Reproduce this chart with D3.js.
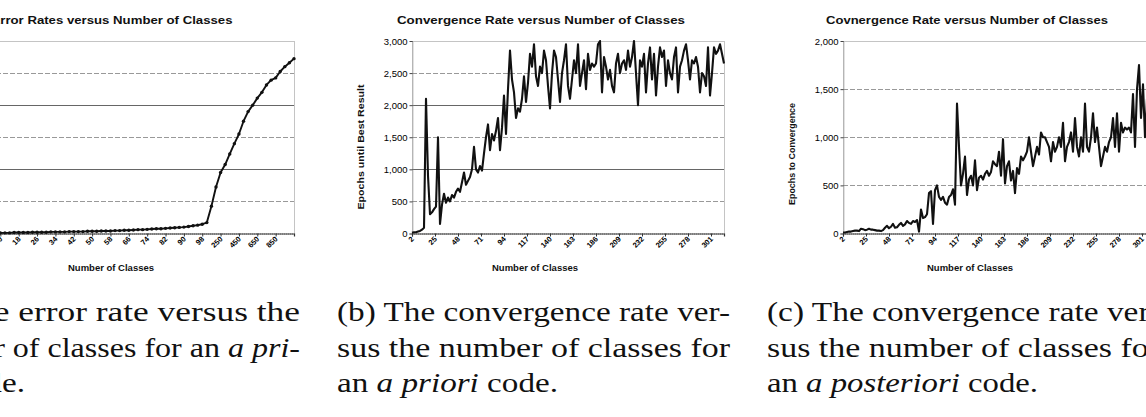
<!DOCTYPE html>
<html>
<head>
<meta charset="utf-8">
<script src="https://cdn.jsdelivr.net/npm/d3@7"></script>
<style>
  body { margin: 0; background: #fff; }
  svg { display: block; }
</style>
</head>
<body>
<div id="chart"></div>
<script>
// ---------- data ----------

// (a) error rate (%) per class-count category, a priori code
const errorRate = [
  0.1, 0.1, 0.1, 0.2, 0.2, 0.2, 0.2, 0.3, 0.3, 0.3,
  0.3, 0.4, 0.4, 0.4, 0.4, 0.5, 0.5, 0.5, 0.5, 0.6,
  0.6, 0.6, 0.6, 0.7, 0.7, 0.7, 0.8, 0.8, 0.8, 0.9,
  0.9, 1.0, 1.0, 1.1, 1.2, 1.2, 1.3, 1.4, 1.5, 1.5,
  1.6, 1.7, 1.8, 1.9, 2.0, 2.2, 2.4, 2.6, 2.9, 3.4,
  8.5, 14.5, 19, 21.5, 24.8, 28, 31, 35, 38, 40,
  42.2, 44, 46.3, 47.8, 48.5, 50.5, 52, 53.2, 54.5
];
const tickLabelsA = ["2", "10", "18", "26", "34", "42", "50", "58", "66", "74", "82", "90", "98", "250", "450", "650", "850"];
const yTicksA = [0, 10, 20, 30, 40, 50, 60];

// (b) epochs until best result, a priori code (one value every 2 classes from 2)
const epochsPriori = [
  10, 20, 20, 30, 40, 60, 90, 2100, 900, 300,
  330, 380, 420, 1500, 150, 450, 620, 480, 560, 500,
  600, 560, 650, 700, 650, 800, 950, 760, 820, 880,
  1000, 1350, 1000, 950, 1050, 980, 1250, 1500, 1700, 1300,
  1550, 1450, 1600, 1800, 1300, 1650, 2150, 1550, 2250, 2850,
  2400, 2200, 1800, 1950, 1900, 2100, 2450, 2050, 2350, 2800,
  2600, 2950, 2450, 2300, 2600, 2500, 2850, 2700, 2300, 1950,
  2500, 2850, 2750, 2400, 2050, 2500, 2700, 2950, 2300, 2100,
  2400, 2700, 2500, 2950, 2300, 2500, 2700, 2250, 2800, 2550,
  2650, 2600, 2650, 2950, 3000, 2200, 2750, 2600, 2400, 2550,
  2300, 2200, 2650, 2800, 2500, 2650, 2700, 2550, 2850, 2600,
  2750, 3000, 2500, 2000, 2700, 2600, 2800, 2200, 2650, 2900,
  2400, 2800, 2150, 2600, 2900, 2750, 2850, 2300, 2700, 2500,
  2400, 2750, 2900, 2200, 2600, 2700, 2850, 2950, 2700, 2400,
  2700, 2650, 2750, 2600, 2200, 2500, 2450, 2300, 2900, 2150,
  2500, 2900, 2800, 2850, 2950, 2800, 2650
];

// (c) epochs to convergence, a posteriori code (one value every 2 classes from 2)
const epochsPosteriori = [
  10, 10, 15, 20, 20, 25, 30, 30, 25, 50,
  45, 35, 40, 50, 40, 40, 35, 30, 30, 25,
  35, 60, 80, 55, 70, 100, 60, 65, 90, 110,
  80, 95, 130, 110, 100, 130, 120, 140, 20, 250,
  160, 170, 200, 420, 440, 100, 450, 500, 380, 350,
  380, 320, 300, 380, 400, 460, 300, 1350, 900, 500,
  620, 800, 400, 560, 600, 500, 760, 450, 580, 600,
  560, 620, 650, 600, 640, 750, 720, 700, 850, 600,
  980, 520, 700, 750, 550, 650, 420, 680, 620, 800,
  760, 800, 850, 1000, 850, 700, 800, 900, 820, 1050,
  1000, 1000, 950, 900, 750, 950, 850, 900, 1000, 900,
  1150, 750, 900, 950, 1050, 850, 1200, 900, 800, 1000,
  850, 1350, 900, 850, 1000, 1250, 950, 1100, 900, 700,
  800, 900, 850, 950, 1000, 1200, 900, 1250, 850, 1150,
  1050, 1100, 1080, 1100, 1050, 1450, 900, 1500, 1750, 1200,
  1550, 1000, 1400, 1300, 1500, 1250, 1450
];

const firstClass = 2;
const classStep = 2;
const xTicksBC = [2, 25, 48, 71, 94, 117, 140, 163, 186, 209, 232, 255, 278, 301];
const yTicksB = [0, 500, 1000, 1500, 2000, 2500, 3000];
const yTicksC = [0, 500, 1000, 1500, 2000];

const titles = [
  "Error Rates versus Number of Classes",
  "Convergence Rate versus Number of Classes",
  "Covnergence Rate versus Number of Classes"
];
const yTitles = ["", "Epochs until Best Result", "Epochs to Convergence"];
const xTitle = "Number of Classes";

// caption lines: list of [text, italic] pieces
const captionA = [
  [["(a) The error rate versus the", false]],
  [["number of classes for an ", false], ["a pri-", true]],
  [["ori", true], [" code.", false]]
];
const captionB = [
  [["(b) The convergence rate ver-", false]],
  [["sus the number of classes for", false]],
  [["an ", false], ["a priori", true], [" code.", false]]
];
const captionC = [
  [["(c) The convergence rate ver-", false]],
  [["sus the number of classes for", false]],
  [["an ", false], ["a posteriori", true], [" code.", false]]
];

// ---------- drawing ----------
const W = 1146, H = 417;
const sans = "'Liberation Sans', Arial, sans-serif";
const serif = "'Liberation Serif', 'DejaVu Serif', serif";

const svg = d3.select("#chart").append("svg")
  .attr("width", W).attr("height", H)
  .attr("viewBox", `0 0 ${W} ${H}`);
svg.append("rect").attr("width", W).attr("height", H).attr("fill", "#fff");

/**
 * drawPanel 画一个小图（扫描件里的 Excel 折线图）
 */
function drawPanel(p) {
  const g = svg.append("g");
  const top = 41, bottom = 233.5;
  const right = p.left + 312;

  const y = d3.scaleLinear().domain([p.yTicks[0], p.yTicks[p.yTicks.length - 1]]).range([bottom, top]);
  const x = d3.scaleLinear().domain(p.xDomain).range([p.left, right]);

  // gridlines (the scan shows some as solid, some as broken)
  g.selectAll("line.grid")
    .data(p.yTicks.slice(1, -1))
    .join("line")
    .attr("class", "grid")
    .attr("x1", p.left).attr("x2", right)
    .attr("y1", d => Math.round(y(d)) + 0.5).attr("y2", d => Math.round(y(d)) + 0.5)
    .attr("stroke", d => p.solidGrid.includes(d) ? "#666" : "#999")
    .attr("stroke-width", 1)
    .attr("stroke-dasharray", d => p.solidGrid.includes(d) ? null : "5,2");

  // plot area border (dotted)
  g.append("rect")
    .attr("x", p.left + 0.5).attr("y", top + 0.5)
    .attr("width", right - p.left).attr("height", bottom - top)
    .attr("fill", "none")
    .attr("stroke", "#888")
    .attr("stroke-dasharray", "1,1");

  // y axis
  const yAxis = d3.axisLeft(y)
    .tickValues(p.yTicks)
    .tickSize(3)
    .tickPadding(2)
    .tickFormat(p.showYLabels ? d3.format(",") : "");
  const ya = g.append("g")
    .attr("transform", `translate(${p.left + 0.5},0)`)
    .call(yAxis);
  ya.select(".domain").attr("stroke", "#888").attr("stroke-dasharray", "1,1");
  ya.selectAll(".tick line").attr("stroke", "#444");
  ya.selectAll(".tick text")
    .attr("font-family", sans).attr("font-size", 9.5).attr("fill", "#000");

  // x axis
  const xAxis = d3.axisBottom(x)
    .tickValues(p.xTicks)
    .tickSize(3)
    .tickFormat((d, i) => p.xLabels[i]);
  const xa = g.append("g")
    .attr("transform", `translate(0,${bottom})`)
    .call(xAxis);
  xa.select(".domain").attr("stroke", "#333").attr("stroke-width", 1.2);
  xa.selectAll(".tick line").attr("stroke", "#333");
  xa.selectAll(".tick text")
    .attr("font-family", sans).attr("font-size", 7.5).attr("font-weight", "bold")
    .attr("fill", "#000")
    .attr("text-anchor", "end")
    .attr("dy", null).attr("y", 0)
    .attr("transform", "translate(2,6) rotate(-45)");

  // series line
  const line = d3.line()
    .x((d, i) => x(p.xOf(i)))
    .y(d => y(d));
  g.append("path")
    .datum(p.values)
    .attr("d", line)
    .attr("fill", "none")
    .attr("stroke", "#111")
    .attr("stroke-width", p.lineWidth)
    .attr("stroke-linejoin", "round");

  if (p.markers) {
    g.selectAll("circle.pt")
      .data(p.values)
      .join("circle")
      .attr("class", "pt")
      .attr("cx", (d, i) => x(p.xOf(i)))
      .attr("cy", d => y(d))
      .attr("r", 1.7)
      .attr("fill", "#111");
  }

  // chart title
  g.append("text")
    .attr("x", p.titleX).attr("y", 24)
    .attr("text-anchor", "middle")
    .attr("font-family", sans).attr("font-size", 11.5).attr("font-weight", "bold")
    .attr("fill", "#111")
    .attr("textLength", p.titleW).attr("lengthAdjust", "spacingAndGlyphs")
    .text(p.title);

  // x title
  g.append("text")
    .attr("x", p.xTitleX).attr("y", 271)
    .attr("text-anchor", "middle")
    .attr("font-family", sans).attr("font-size", 8.5).attr("font-weight", "bold")
    .attr("fill", "#111")
    .attr("textLength", 86).attr("lengthAdjust", "spacingAndGlyphs")
    .text(xTitle);

  // y title
  if (p.yTitle) {
    g.append("text")
      .attr("transform", `translate(${p.left - 48},${p.yTitleY}) rotate(-90)`)
      .attr("text-anchor", "middle")
      .attr("font-family", sans).attr("font-size", 9).attr("font-weight", "bold")
      .attr("fill", "#111")
      .attr("textLength", p.yTitleW).attr("lengthAdjust", "spacingAndGlyphs")
      .text(p.yTitle);
  }
}

/**
 * drawCaption 论文里的子图标题（三行，前两行两端对齐）
 */
function drawCaption(left, lines, widths) {
  const baselines = [321, 356.5, 392];
  lines.forEach((pieces, li) => {
    const t = svg.append("text")
      .attr("x", left).attr("y", baselines[li])
      .attr("font-family", serif).attr("font-size", 28)
      .attr("fill", "#111")
      .attr("textLength", widths[li]).attr("lengthAdjust", "spacingAndGlyphs");
    pieces.forEach(pc => {
      t.append("tspan")
        .attr("font-style", pc[1] ? "italic" : "normal")
        .text(pc[0]);
    });
  });
}

// (a)
drawPanel({
  left: -18,
  values: errorRate,
  xDomain: [0, errorRate.length - 1],
  xOf: i => i,
  xTicks: tickLabelsA.map((d, i) => i * 4),
  xLabels: tickLabelsA,
  yTicks: yTicksA,
  solidGrid: [20, 40],
  showYLabels: false,
  markers: true,
  lineWidth: 1.9,
  title: titles[0], titleX: 112, titleW: 241,
  xTitleX: 111,
  yTitle: yTitles[0]
});

// (b)
drawPanel({
  left: 412,
  values: epochsPriori,
  xDomain: [firstClass, firstClass + classStep * (epochsPriori.length - 1)],
  xOf: i => firstClass + classStep * i,
  xTicks: xTicksBC,
  xLabels: xTicksBC.map(String),
  yTicks: yTicksB,
  solidGrid: [1000, 2000],
  showYLabels: true,
  markers: false,
  lineWidth: 2.1,
  title: titles[1], titleX: 541, titleW: 288,
  xTitleX: 535,
  yTitle: yTitles[1], yTitleY: 147, yTitleW: 125
});

// (c)
drawPanel({
  left: 843,
  values: epochsPosteriori,
  xDomain: [firstClass, firstClass + classStep * (epochsPosteriori.length - 1)],
  xOf: i => firstClass + classStep * i,
  xTicks: xTicksBC,
  xLabels: xTicksBC.map(String),
  yTicks: yTicksC,
  solidGrid: [],
  showYLabels: true,
  markers: false,
  lineWidth: 2.1,
  title: titles[2], titleX: 967, titleW: 282,
  xTitleX: 970,
  yTitle: yTitles[2], yTitleY: 154, yTitleW: 102
});

drawCaption(-93, captionA, [393, 393, 118]);
drawCaption(337, captionB, [393, 393, 221]);
drawCaption(767, captionC, [393, 393, 271]);
</script>
</body>
</html>
